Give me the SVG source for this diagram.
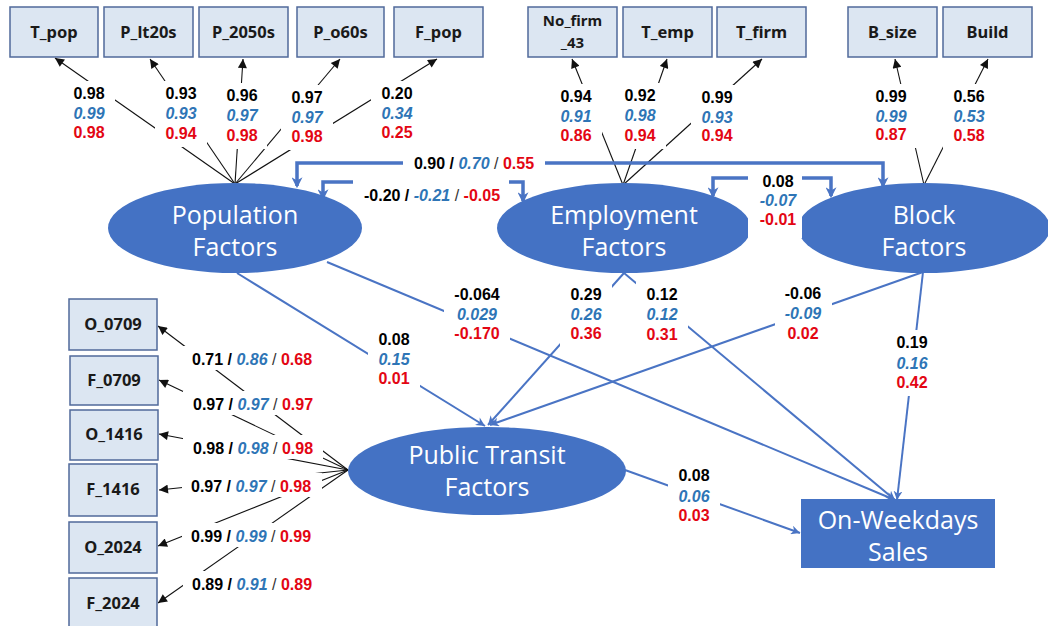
<svg xmlns="http://www.w3.org/2000/svg" width="1048" height="626" viewBox="0 0 1048 626">
<style>
.box{fill:#dce6f2;stroke:#50699a;stroke-width:1.5}
.bt{font-family:"Noto Sans","Liberation Sans",sans-serif;font-weight:bold;font-size:16.5px;fill:#1a1a1a;text-anchor:middle}
.bt2{font-size:15px}
.lv{fill:#4472c4}
.nt{font-family:"Open Sans","Noto Sans",sans-serif;font-size:25px;fill:#fff;text-anchor:middle}
.ind{stroke:#111;stroke-width:1.1;fill:none;marker-end:url(#ab)}
.reg{stroke:#4a74c4;stroke-width:2;fill:none;marker-end:url(#ar)}
.cov{stroke:#4a74c4;stroke-width:3.5;fill:none;marker-start:url(#ac);marker-end:url(#ac)}
.lb{fill:#fff}
.n{font-family:"Liberation Sans",Arial,sans-serif;font-weight:bold;font-size:16px;text-anchor:middle}
.h{font-family:"Liberation Sans",Arial,sans-serif;font-weight:bold;font-size:16px}
.k{fill:#000}
.b{fill:#2e75b6;font-style:italic}
.r{fill:#e30613}
.s{fill:#333;font-weight:normal}
</style>
<defs>
<marker id="ab" viewBox="0 0 10 10" refX="10" refY="5" markerUnits="userSpaceOnUse" markerWidth="11" markerHeight="9" orient="auto"><path d="M0,0 L10,5 L0,10 z" fill="#111"/></marker>
<marker id="ar" viewBox="0 0 10 10" refX="10" refY="5" markerUnits="userSpaceOnUse" markerWidth="11" markerHeight="9" orient="auto"><path d="M0,0 L10,5 L0,10 L3,5 z" fill="#4a74c4"/></marker>
<marker id="ac" viewBox="0 0 10 10" refX="8" refY="5" markerUnits="userSpaceOnUse" markerWidth="11" markerHeight="11" orient="auto-start-reverse"><path d="M0,0 L10,5 L0,10 L3,5 z" fill="#4a74c4"/></marker>
</defs>
<rect width="1048" height="626" fill="#fff"/>

<g id="connectors">
  <line class="ind" x1="235" y1="184" x2="55" y2="58"/>
  <line class="ind" x1="235" y1="184" x2="150" y2="59"/>
  <line class="ind" x1="235" y1="184" x2="243" y2="59"/>
  <line class="ind" x1="235" y1="184" x2="340" y2="59"/>
  <line class="ind" x1="235" y1="184" x2="437" y2="59"/>
  <line class="ind" x1="623" y1="185" x2="572" y2="59"/>
  <line class="ind" x1="623" y1="185" x2="667" y2="59"/>
  <line class="ind" x1="623" y1="185" x2="762" y2="59"/>
  <line class="ind" x1="924" y1="185" x2="895" y2="59"/>
  <line class="ind" x1="924" y1="185" x2="988" y2="59"/>
  <line class="ind" x1="348" y1="470" x2="158" y2="326"/>
  <line class="ind" x1="348" y1="470" x2="159" y2="380"/>
  <line class="ind" x1="348" y1="470" x2="159" y2="434"/>
  <line class="ind" x1="348" y1="470" x2="159" y2="490"/>
  <line class="ind" x1="348" y1="470" x2="158" y2="546"/>
  <line class="ind" x1="348" y1="470" x2="158" y2="603"/>
  <path class="cov" d="M297,186 L297,163 L883,163 L883,186"/>
  <path class="cov" d="M323,198 L323,182 L523,182 L523,201"/>
  <path class="cov" d="M713,196 L713,178 L831,178 L831,196"/>
  <line class="reg" x1="237" y1="273" x2="485" y2="426"/>
  <line class="reg" x1="327" y1="262" x2="895" y2="500"/>
  <line class="reg" x1="624" y1="273" x2="488" y2="425"/>
  <line class="reg" x1="624" y1="273" x2="895" y2="500"/>
  <line class="reg" x1="923" y1="272" x2="490" y2="425"/>
  <line class="reg" x1="923" y1="272" x2="897" y2="500"/>
  <line class="reg" x1="625" y1="470" x2="800" y2="533"/>
</g>

<g id="T_pop"><rect class="box" x="10" y="7" width="88" height="50"/><text class="bt" x="54" y="38">T_pop</text></g>
<g id="P_lt20s"><rect class="box" x="104" y="7" width="89" height="50"/><text class="bt" x="148.5" y="38">P_lt20s</text></g>
<g id="P_2050s"><rect class="box" x="199" y="7" width="89" height="50"/><text class="bt" x="243.5" y="38">P_2050s</text></g>
<g id="P_o60s"><rect class="box" x="297" y="7" width="87" height="50"/><text class="bt" x="340.5" y="38">P_o60s</text></g>
<g id="F_pop"><rect class="box" x="394" y="7" width="89" height="50"/><text class="bt" x="438.5" y="38">F_pop</text></g>
<g id="No_firm_43"><rect class="box" x="528" y="7" width="89" height="50"/><text class="bt bt2" x="572.5" y="26">No_firm</text><text class="bt bt2" x="572.5" y="48">_43</text></g>
<g id="T_emp"><rect class="box" x="623" y="7" width="89" height="50"/><text class="bt" x="667.5" y="38">T_emp</text></g>
<g id="T_firm"><rect class="box" x="717" y="7" width="89" height="50"/><text class="bt" x="761.5" y="38">T_firm</text></g>
<g id="B_size"><rect class="box" x="848" y="7" width="89" height="50"/><text class="bt" x="892.5" y="38">B_size</text></g>
<g id="Build"><rect class="box" x="943" y="7" width="89" height="50"/><text class="bt" x="987.5" y="38">Build</text></g>

<g id="O_0709"><rect class="box" x="69" y="299" width="88" height="51"/><text class="bt" x="113" y="330">O_0709</text></g>
<g id="F_0709"><rect class="box" x="70" y="356" width="88" height="49"/><text class="bt" x="114" y="386">F_0709</text></g>
<g id="O_1416"><rect class="box" x="70" y="410" width="88" height="50"/><text class="bt" x="114" y="440">O_1416</text></g>
<g id="F_1416"><rect class="box" x="69" y="464" width="88" height="52"/><text class="bt" x="113" y="495">F_1416</text></g>
<g id="O_2024"><rect class="box" x="69" y="522" width="88" height="51"/><text class="bt" x="113" y="553">O_2024</text></g>
<g id="F_2024"><rect class="box" x="69" y="578" width="88" height="60"/><text class="bt" x="113" y="609">F_2024</text></g>

<g id="Population"><ellipse class="lv" cx="235" cy="228" rx="127" ry="45"/><text class="nt" x="235" y="224">Population</text><text class="nt" x="235" y="256">Factors</text></g>
<g id="Employment"><ellipse class="lv" cx="624" cy="228" rx="127" ry="45"/><text class="nt" x="624" y="224">Employment</text><text class="nt" x="624" y="256">Factors</text></g>
<g id="Block"><ellipse class="lv" cx="924" cy="228" rx="126" ry="45"/><text class="nt" x="924" y="224">Block</text><text class="nt" x="924" y="256">Factors</text></g>
<g id="PublicTransit"><ellipse class="lv" cx="487" cy="471" rx="139" ry="44"/><text class="nt" x="487" y="464">Public Transit</text><text class="nt" x="487" y="496">Factors</text></g>
<g id="Sales"><rect class="lv" x="801" y="499" width="194" height="69"/><text class="nt" x="898" y="529">On-Weekdays</text><text class="nt" x="898" y="561">Sales</text></g>

<g id="labels">
  <g><rect class="lb" x="63" y="81" width="52" height="65"/><text class="n k" x="89" y="99">0.98</text><text class="n b" x="89" y="119">0.99</text><text class="n r" x="89" y="138">0.98</text></g>
  <g><rect class="lb" x="155" y="81" width="52" height="66"/><text class="n k" x="181" y="99">0.93</text><text class="n b" x="181" y="119">0.93</text><text class="n r" x="181" y="139">0.94</text></g>
  <g><rect class="lb" x="216" y="83" width="51" height="66"/><text class="n k" x="242" y="101">0.96</text><text class="n b" x="242" y="121">0.97</text><text class="n r" x="242" y="141">0.98</text></g>
  <g><rect class="lb" x="281" y="85" width="52" height="65"/><text class="n k" x="307" y="103">0.97</text><text class="n b" x="307" y="123">0.97</text><text class="n r" x="307" y="142">0.98</text></g>
  <g><rect class="lb" x="371" y="81" width="52" height="65"/><text class="n k" x="397" y="99">0.20</text><text class="n b" x="397" y="119">0.34</text><text class="n r" x="397" y="138">0.25</text></g>
  <g><rect class="lb" x="550" y="84" width="52" height="65"/><text class="n k" x="576" y="102">0.94</text><text class="n b" x="576" y="122">0.91</text><text class="n r" x="576" y="141">0.86</text></g>
  <g><rect class="lb" x="614" y="83" width="52" height="66"/><text class="n k" x="640" y="101">0.92</text><text class="n b" x="640" y="121">0.98</text><text class="n r" x="640" y="141">0.94</text></g>
  <g><rect class="lb" x="691" y="85" width="52" height="64"/><text class="n k" x="717" y="103">0.99</text><text class="n b" x="717" y="123">0.93</text><text class="n r" x="717" y="141">0.94</text></g>
  <g><rect class="lb" x="865" y="84" width="52" height="64"/><text class="n k" x="891" y="102">0.99</text><text class="n b" x="891" y="122">0.99</text><text class="n r" x="891" y="140">0.87</text></g>
  <g><rect class="lb" x="943" y="84" width="52" height="65"/><text class="n k" x="969" y="102">0.56</text><text class="n b" x="969" y="122">0.53</text><text class="n r" x="969" y="141">0.58</text></g>
  <g><rect class="lb" x="403" y="152" width="142" height="23"/><text class="h" x="474" y="169" text-anchor="middle"><tspan class="k">0.90 / </tspan><tspan class="b">0.70</tspan><tspan class="s"> / </tspan><tspan class="r">0.55</tspan></text></g>
  <g><rect class="lb" x="353" y="179" width="156" height="28"/><text class="h" x="432" y="201" text-anchor="middle"><tspan class="k">-0.20 / </tspan><tspan class="b">-0.21</tspan><tspan class="s"> / </tspan><tspan class="r">-0.05</tspan></text></g>
  <g><rect class="lb" x="748" y="168" width="54" height="70"/><text class="n k" x="778" y="187">0.08</text><text class="n b" x="778" y="206">-0.07</text><text class="n r" x="778" y="225">-0.01</text></g>
  <g><rect class="lb" x="368" y="327" width="52" height="65"/><text class="n k" x="394" y="345">0.08</text><text class="n b" x="394" y="365">0.15</text><text class="n r" x="394" y="384">0.01</text></g>
  <g><rect class="lb" x="444" y="282" width="66" height="65"/><text class="n k" x="477" y="300">-0.064</text><text class="n b" x="477" y="320">0.029</text><text class="n r" x="477" y="339">-0.170</text></g>
  <g><rect class="lb" x="560" y="282" width="52" height="65"/><text class="n k" x="586" y="300">0.29</text><text class="n b" x="586" y="320">0.26</text><text class="n r" x="586" y="339">0.36</text></g>
  <g><rect class="lb" x="636" y="282" width="52" height="66"/><text class="n k" x="662" y="300">0.12</text><text class="n b" x="662" y="320">0.12</text><text class="n r" x="662" y="340">0.31</text></g>
  <g><rect class="lb" x="775" y="281" width="57" height="66"/><text class="n k" x="803" y="299">-0.06</text><text class="n b" x="803" y="319">-0.09</text><text class="n r" x="803" y="339">0.02</text></g>
  <g><rect class="lb" x="886" y="330" width="52" height="66"/><text class="n k" x="912" y="348">0.19</text><text class="n b" x="912" y="369">0.16</text><text class="n r" x="912" y="388">0.42</text></g>
  <g><rect class="lb" x="668" y="463" width="52" height="66"/><text class="n k" x="694" y="481">0.08</text><text class="n b" x="694" y="502">0.06</text><text class="n r" x="694" y="521">0.03</text></g>
  <g><rect class="lb" x="183" y="346" width="140" height="24"/><text class="h" x="192" y="365"><tspan class="k">0.71 / </tspan><tspan class="b">0.86</tspan><tspan class="s"> / </tspan><tspan class="r">0.68</tspan></text></g>
  <g><rect class="lb" x="183" y="391" width="140" height="24"/><text class="h" x="193" y="410"><tspan class="k">0.97 / </tspan><tspan class="b">0.97</tspan><tspan class="s"> / </tspan><tspan class="r">0.97</tspan></text></g>
  <g><rect class="lb" x="183" y="435" width="140" height="24"/><text class="h" x="193" y="454"><tspan class="k">0.98 / </tspan><tspan class="b">0.98</tspan><tspan class="s"> / </tspan><tspan class="r">0.98</tspan></text></g>
  <g><rect class="lb" x="182" y="473" width="140" height="24"/><text class="h" x="191" y="492"><tspan class="k">0.97 / </tspan><tspan class="b">0.97</tspan><tspan class="s"> / </tspan><tspan class="r">0.98</tspan></text></g>
  <g><rect class="lb" x="182" y="523" width="140" height="24"/><text class="h" x="191" y="542"><tspan class="k">0.99 / </tspan><tspan class="b">0.99</tspan><tspan class="s"> / </tspan><tspan class="r">0.99</tspan></text></g>
  <g><rect class="lb" x="183" y="571" width="140" height="24"/><text class="h" x="192" y="590"><tspan class="k">0.89 / </tspan><tspan class="b">0.91</tspan><tspan class="s"> / </tspan><tspan class="r">0.89</tspan></text></g>
</g>
</svg>
